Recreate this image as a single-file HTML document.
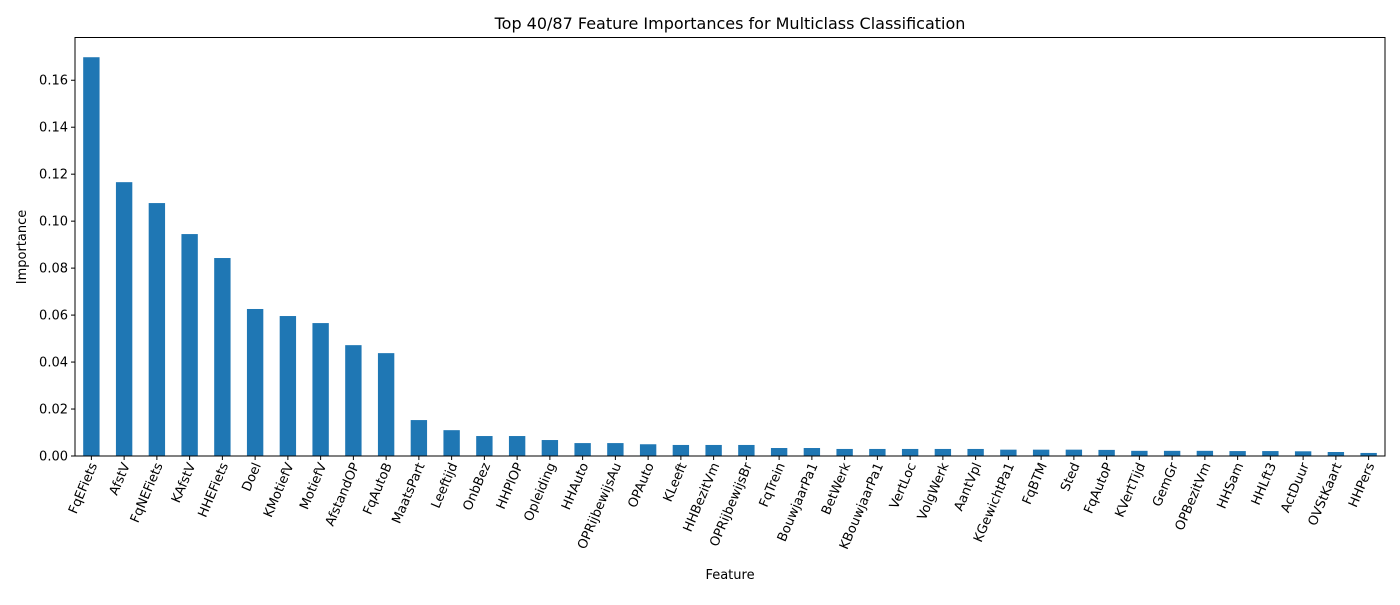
<!DOCTYPE html>
<html><head><meta charset="utf-8"><style>body{margin:0;background:#fff}svg{font-family:"DejaVu Sans","Liberation Sans",sans-serif}</style></head>
<body>
<svg id="c" width="1400" height="600">
<text x="730" y="29" text-anchor="middle" font-size="16">Top 40/87 Feature Importances for Multiclass Classification</text>
<text x="730" y="579" text-anchor="middle" font-size="13">Feature</text>
<text transform="translate(26,247) rotate(-90)" text-anchor="middle" font-size="13">Importance</text>
<g id="bars"></g><g id="ticks"></g>
<rect x="75" y="37.5" width="1310" height="418.5" fill="none" stroke="#000" stroke-width="1"/>
</svg>
<script>
const categories=["FqEFiets","AfstV","FqNEFiets","KAfstV","HHEFiets","Doel","KMotiefV","MotiefV","AfstandOP","FqAutoB","MaatsPart","Leeftijd","OnbBez","HHPlOP","Opleiding","HHAuto","OPRijbewijsAu","OPAuto","KLeeft","HHBezitVm","OPRijbewijsBr","FqTrein","BouwjaarPa1","BetWerk","KBouwjaarPa1","VertLoc","VolgWerk","AantVpl","KGewichtPa1","FqBTM","Sted","FqAutoP","KVertTijd","GemGr","OPBezitVm","HHSam","HHLft3","ActDuur","OVStKaart","HHPers"];
const values=[0.1698,0.1166,0.1077,0.0945,0.0843,0.0626,0.0596,0.0566,0.0472,0.0438,0.0153,0.011,0.0085,0.0085,0.0068,0.0055,0.0055,0.005,0.0047,0.0047,0.0047,0.0034,0.0034,0.003,0.003,0.003,0.003,0.003,0.0027,0.0027,0.0027,0.0026,0.0022,0.0022,0.0022,0.0021,0.0021,0.002,0.0017,0.0013];
const yTicks=[0,0.02,0.04,0.06,0.08,0.10,0.12,0.14,0.16];
const NS="http://www.w3.org/2000/svg";
const x0=75,x1=1385,y0=456,yTop=37.5,ymax=0.1782;
const step=(x1-x0)/categories.length;
const xs=i=>x0+step*(i+0.5);
const ys=v=>y0-(v/ymax)*(y0-yTop);
const bars=document.getElementById('bars'),ticks=document.getElementById('ticks');
function mk(t,a,p){const e=document.createElementNS(NS,t);for(const k in a)e.setAttribute(k,a[k]);p.appendChild(e);return e;}
categories.forEach((c,i)=>{
  const r=mk('rect',{x:xs(i)-step/4,y:ys(values[i]),width:step/2,height:y0-ys(values[i]),fill:'#1f77b4'},bars);
  
  
  const l=mk('line',{x1:xs(i),x2:xs(i),y1:y0,y2:y0+4,stroke:'#000'},ticks);
  
  
  const t=mk('text',{transform:`translate(${xs(i)+6},${y0+9}) rotate(-67)`,'text-anchor':'end','font-size':13},ticks);
  t.textContent=c;
  
  
});
yTicks.forEach(v=>{
  const y=ys(v);
  const l=mk('line',{x1:x0-4,x2:x0,y1:y,y2:y,stroke:'#000'},ticks);
  
  
  const t=mk('text',{x:x0-7,y:y+4.5,'text-anchor':'end','font-size':13},ticks);
  t.textContent=v.toFixed(2);
  
  
});
</script>
</body></html>
